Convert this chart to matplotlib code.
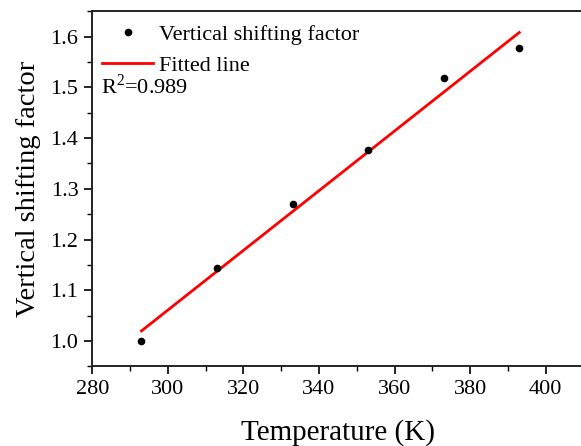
import matplotlib
matplotlib.use("Agg")
import matplotlib.pyplot as plt
from matplotlib.ticker import MultipleLocator

plt.rcParams['font.family'] = ['Liberation Serif', 'DejaVu Serif']
plt.rcParams['mathtext.fontset'] = 'custom'
plt.rcParams['mathtext.rm'] = 'Liberation Serif'

temperature = [293, 313, 333, 353, 373, 393]
shift_factor = [1.000, 1.144, 1.271, 1.377, 1.519, 1.578]
fit_x = [293, 393]
fit_y = [1.020, 1.608]
r2_text = "R$^2$=0.989"

fig = plt.figure(figsize=(5.81, 4.46), dpi=100)
ax = fig.add_axes([0.1589, 0.1783, 0.8454, 0.7978])

ax.plot(temperature, shift_factor, 'o', color='black', markersize=4.5,
        label='Vertical shifting factor', zorder=3)
ax.plot(fit_x, fit_y, '-', color='#ff0000', linewidth=2, label='Fitted line', zorder=2)

ax.set_xlim(280, 410)
ax.set_ylim(0.95, 1.651)
ax.xaxis.set_minor_locator(MultipleLocator(10))
ax.yaxis.set_minor_locator(MultipleLocator(0.05))
ax.set_xticks([280, 300, 320, 340, 360, 380, 400])
ax.set_yticks([1.0, 1.1, 1.2, 1.3, 1.4, 1.5, 1.6])

ax.tick_params(which='major', direction='out', length=6, width=1.2, labelsize=16,
               top=False, right=False, pad=4)
ax.tick_params(which='minor', direction='out', length=3.5, width=1.0, top=False, right=False)
for s in ['left', 'bottom', 'top']:
    ax.spines[s].set_linewidth(1.4)
    ax.spines[s].set_color('#222222')
ax.spines['right'].set_visible(False)

ax.set_xlabel('Temperature (K)', fontsize=21, labelpad=14)
ax.set_ylabel('Vertical shifting factor', fontsize=20.5, labelpad=7)

leg = ax.legend(loc='upper left', bbox_to_anchor=(0.0198, 0.961), frameon=False,
                fontsize=16, handlelength=2.3, handletextpad=0.25, labelspacing=0.45,
                borderaxespad=0.0, borderpad=0.0)
ax.text(0.0177, 0.786, r2_text, transform=ax.transAxes, fontsize=16, va='center', ha='left')

fig.savefig('out.png', dpi=100)
